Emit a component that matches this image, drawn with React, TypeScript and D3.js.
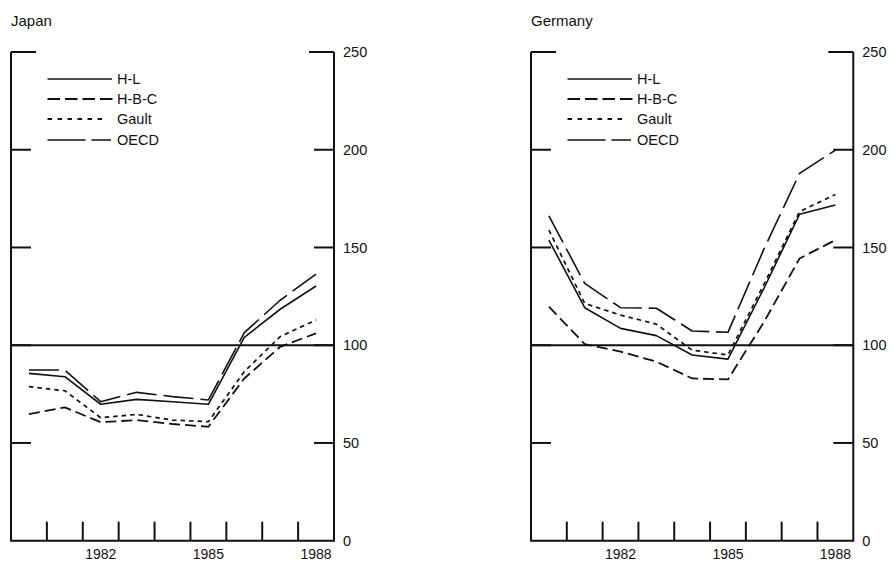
import React from "react";
import * as d3 from "d3";

const years = [1980, 1981, 1982, 1983, 1984, 1985, 1986, 1987, 1988];
const yTicks = [0, 50, 100, 150, 200, 250];
const xLabelYears = [1982, 1985, 1988];
const seriesNames = ["H-L", "H-B-C", "Gault", "OECD"];

const japanHL = [85.6, 83.9, 69.8, 72.3, 71.1, 69.8, 104, 118.4, 130.3];
const japanHBC = [64.8, 68.2, 60.6, 61.7, 59.7, 58.3, 83, 99.2, 106.1];
const japanGault = [78.8, 76.7, 62.9, 64.6, 61.7, 60.9, 86.5, 104.4, 112.9];
const japanOECD = [87.3, 87.3, 71.1, 75.9, 73.7, 72, 106.4, 123, 136.4];

const germanyHL = [153.8, 119.2, 108.6, 104.9, 95, 92.9, 129, 167, 171.7];
const germanyHBC = [119.7, 100.6, 96.7, 91.6, 83, 82.5, 111.7, 144.4, 153.8];
const germanyGault = [158.9, 121.4, 115.4, 110.8, 97.5, 95, 131, 168.4, 177.1];
const germanyOECD = [166.2, 131.6, 119.2, 118.9, 107.3, 106.6, 149, 187.9, 199.8];

const styles: Record<string, { dash: string; width: number }> = {
  "H-L": { dash: "none", width: 1.6 },
  "H-B-C": { dash: "11,5", width: 1.8 },
  Gault: { dash: "4.5,4", width: 1.7 },
  OECD: { dash: "30,7", width: 1.6 },
};
const legendDash: Record<string, string> = {
  "H-L": "none",
  "H-B-C": "12.5,5",
  Gault: "4.5,5.5",
  OECD: "38,6",
};
const legendWidth: Record<string, number> = {
  "H-L": 1.6,
  "H-B-C": 2.2,
  Gault: 1.8,
  OECD: 1.6,
};

const FONT = "'Liberation Sans', Arial, Helvetica, sans-serif";

type PanelProps = {
  title: string;
  left: number;
  right: number;
  data: number[][];
};

const TOP = 52;
const BOTTOM = 540.7;

function Panel({ title, left, right, data }: PanelProps) {
  const x = d3.scaleBand<number>().domain(years).range([left, right]);
  const y = d3.scaleLinear().domain([0, 250]).range([BOTTOM, TOP]);
  const line = d3
    .line<number>()
    .x((_, i) => (x(years[i]) as number) + x.bandwidth() / 2)
    .y((d) => y(d));
  const boundaries = years.slice(1).map((yr) => x(yr) as number);
  const legendX0 = left + 36.5;
  const legendEnd: Record<string, number> = {
    "H-L": left + 101,
    "H-B-C": left + 102,
    Gault: left + 96,
    OECD: left + 100,
  };
  const textX = left + 106;
  const legendY = [79, 99, 119, 140];
  return (
    <g>
      <text x={left} y={25.5} fontSize={15} fontFamily={FONT} fill="#111">
        {title}
      </text>
      {/* axes */}
      <path
        d={`M${left},${TOP}V${BOTTOM}H${right}V${TOP}`}
        fill="none"
        stroke="#111"
        strokeWidth={2}
      />
      {yTicks.map((t) => {
        const len = t === 250 ? 25 : 20;
        return (
          <g key={t}>
            {t !== 0 && (
              <>
                <line x1={left} x2={left + len} y1={y(t)} y2={y(t)} stroke="#111" strokeWidth={2} />
                <line x1={right - len} x2={right} y1={y(t)} y2={y(t)} stroke="#111" strokeWidth={2} />
              </>
            )}
            <text
              x={right + 9}
              y={y(t)}
              dy="0.36em"
              fontSize={14.5}
              fontFamily={FONT}
              fill="#111"
            >
              {t}
            </text>
          </g>
        );
      })}
      <line x1={left} x2={right} y1={y(100)} y2={y(100)} stroke="#111" strokeWidth={2} />
      {boundaries.map((b, i) => (
        <line key={i} x1={b} x2={b} y1={BOTTOM} y2={BOTTOM - 19} stroke="#111" strokeWidth={2} />
      ))}
      {xLabelYears.map((yr) => (
        <text
          key={yr}
          x={(x(yr) as number) + x.bandwidth() / 2}
          y={558.5}
          textAnchor="middle"
          fontSize={14}
          fontFamily={FONT}
          fill="#111"
        >
          {yr}
        </text>
      ))}
      {/* series */}
      {seriesNames.map((name, i) => (
        <path
          key={name}
          d={line(data[i]) || ""}
          fill="none"
          stroke="#111"
          strokeWidth={styles[name].width}
          strokeDasharray={styles[name].dash}
          strokeLinejoin="round"
        />
      ))}
      {/* legend */}
      {seriesNames.map((name, i) => (
        <g key={name}>
          <line
            x1={legendX0}
            x2={legendEnd[name]}
            y1={legendY[i]}
            y2={legendY[i]}
            stroke="#111"
            strokeWidth={legendWidth[name]}
            strokeDasharray={legendDash[name]}
          />
          <text
            x={textX}
            y={legendY[i]}
            dy="0.36em"
            fontSize={14.5}
            fontFamily={FONT}
            fill="#111"
          >
            {name}
          </text>
        </g>
      ))}
    </g>
  );
}

export default function App() {
  return (
    <svg
      width={893}
      height={563}
      viewBox="0 0 893 563"
      style={{ position: "absolute", left: 0, top: 0, display: "block", background: "#fff" }}
    >
      <rect width={893} height={563} fill="#fff" />
      <Panel
        title="Japan"
        left={11}
        right={334}
        data={[japanHL, japanHBC, japanGault, japanOECD]}
      />
      <Panel
        title="Germany"
        left={531}
        right={853.3}
        data={[germanyHL, germanyHBC, germanyGault, germanyOECD]}
      />
    </svg>
  );
}
